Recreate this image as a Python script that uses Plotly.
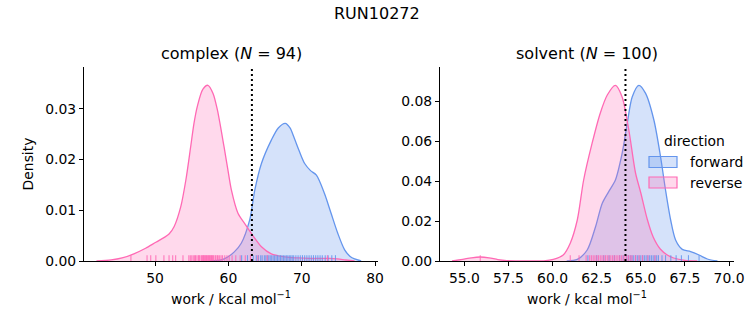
import plotly.graph_objects as go

# ---------------- data ----------------
complex_rev_x = [42.0, 44.0, 45.5, 47.1, 48.7, 50.1, 51.2, 51.9, 52.6, 53.5, 54.2, 54.85, 55.3, 55.75, 56.5,
                 57.2, 57.9, 58.5, 59.4, 59.9, 60.4, 61.3, 62.2, 63.1, 64.5, 65.85, 67.7, 69.5, 71.0, 72.6,
                 73.8, 74.9, 76.0, 77.2]
complex_rev_y = [0.0, 0.0002, 0.0006, 0.0014, 0.0025, 0.0037, 0.0046, 0.0053, 0.0068, 0.0107, 0.016, 0.0225,
                 0.0271, 0.0304, 0.0338, 0.0346, 0.0330, 0.0297, 0.0225, 0.0182, 0.014, 0.0094, 0.0074,
                 0.0055, 0.0028, 0.0014, 0.0008, 0.0006, 0.0005, 0.0005, 0.0005, 0.0004, 0.0002, 0.0]

complex_fwd_x = [57.5, 59.0, 59.9, 60.8, 61.75, 62.9, 63.6, 64.5, 65.85, 66.8, 67.75, 68.4, 69.0, 69.7, 70.4,
                 71.2, 72.0, 73.1, 74.0, 74.9, 75.85, 76.6, 77.2, 78.1]
complex_fwd_y = [0.0, 0.0002, 0.0008, 0.0018, 0.0035, 0.0081, 0.014, 0.0192, 0.0238, 0.0262, 0.0271, 0.0262,
                 0.0241, 0.0215, 0.0192, 0.0178, 0.0169, 0.0133, 0.0094, 0.0055, 0.0022, 0.0009, 0.0004, 0.0]

solvent_rev_x = [54.3, 54.9, 55.4, 55.9, 56.4, 56.9, 57.4, 58.5, 59.5, 60.04, 60.6, 61.0, 61.4, 61.76, 62.24,
                 62.7, 63.1, 63.56, 63.94, 64.32, 64.7, 65.0, 65.36, 65.7, 66.1, 66.5, 66.86, 67.5, 68.2]
solvent_rev_y = [0.0, 0.0008, 0.0016, 0.002, 0.0016, 0.0007, 0.0002, 0.0, 0.0001, 0.0008, 0.003, 0.0089,
                 0.0205, 0.0405, 0.0589, 0.0739, 0.083, 0.0878, 0.082, 0.0655, 0.044, 0.034, 0.021, 0.012,
                 0.006, 0.003, 0.0015, 0.0003, 0.0]

solvent_fwd_x = [60.8, 61.4, 61.96, 62.43, 62.81, 63.18, 63.56, 63.94, 64.23, 64.51, 64.89, 65.27, 65.74,
                 66.12, 66.4, 66.69, 66.97, 67.35, 67.82, 68.3, 68.77, 69.34]
solvent_fwd_y = [0.0, 0.0008, 0.0055, 0.017, 0.0288, 0.0347, 0.0405, 0.0538, 0.0688, 0.082, 0.0878, 0.0838,
                 0.0705, 0.052, 0.0355, 0.0205, 0.0105, 0.0058, 0.0047, 0.003, 0.001, 0.0]

# rug samples
complex_rev_rug = [46.7, 48.9, 49.4, 50.1, 51.2, 51.9, 52.4, 52.8, 53.8, 54.6, 54.8, 55.0, 55.2, 55.4, 55.5,
                   55.7, 55.9, 56.0, 56.1, 56.3, 56.4, 56.5, 56.6, 56.7, 56.8, 56.9, 57.0, 57.1, 57.2, 57.3,
                   57.4, 57.5, 57.6, 57.7, 57.8, 57.9, 58.0, 58.2, 58.3, 58.5, 58.6, 58.8, 59.0, 59.2, 59.5,
                   59.8, 60.1, 60.5, 61.0, 61.6, 62.3, 63.0, 64.0, 65.3, 73.5]
complex_fwd_rug = [61.8, 62.6, 63.4, 63.8, 64.1, 64.4, 64.6, 64.9, 65.1, 65.3, 65.5, 65.7, 65.9, 66.1, 66.3,
                   66.5, 66.7, 66.9, 67.1, 67.3, 67.5, 67.7, 67.9, 68.1, 68.3, 68.5, 68.7, 68.9, 69.2, 69.5,
                   69.8, 70.1, 70.4, 70.7, 71.0, 71.3, 71.6, 71.9, 72.2, 72.5, 72.8, 73.2, 73.6, 74.1, 74.6]
solvent_rev_rug = [55.9, 61.0, 61.5, 61.9, 62.1, 62.2, 62.3, 62.4, 62.5, 62.6, 62.7, 62.8, 62.9, 63.0, 63.1,
                   63.2, 63.3, 63.4, 63.5, 63.6, 63.7, 63.8, 63.9, 64.0, 64.1, 64.2, 64.3, 64.4, 64.5, 64.7,
                   64.9, 65.1, 65.4, 65.8]
solvent_fwd_rug = [62.0, 62.5, 62.9, 63.2, 63.5, 63.8, 64.0, 64.2, 64.3, 64.4, 64.5, 64.6, 64.7, 64.8, 64.9,
                   65.0, 65.1, 65.2, 65.3, 65.4, 65.5, 65.6, 65.7, 65.8, 65.9, 66.0, 66.2, 66.4, 66.7, 67.0,
                   67.3, 67.7, 68.3]

complex_dg = 63.2
solvent_dg = 64.13

directions = ["forward", "reverse"]
legend_title = "direction"
complex_title = "complex (<i>N</i> = 94)"
solvent_title = "solvent (<i>N</i> = 100)"
main_title = "RUN10272"
x_label = "work / kcal mol<sup>−1</sup>"
y_label = "Density"
x_ticks_complex = [50, 60, 70, 80]
x_ticks_solvent = [55.0, 57.5, 60.0, 62.5, 65.0, 67.5, 70.0]
y_ticks_complex = [0.0, 0.01, 0.02, 0.03]
y_ticks_solvent = [0.0, 0.02, 0.04, 0.06, 0.08]

# ---------------- styling ----------------
FWD = "#6495ED"
REV = "#FF69B4"
FWD_FILL = "rgba(100,149,237,0.27)"
REV_FILL = "rgba(255,105,180,0.25)"
FWD_RUG = "rgba(100,149,237,0.85)"
REV_RUG = "rgba(255,105,180,0.85)"
FONT = "DejaVu Sans"
FS = 13.9
W, H = 753, 325


def dx(px):
    return px / W


def dy(py):
    return 1 - py / H


fig = go.Figure()

panels = [
    ("x", "y", complex_fwd_x, complex_fwd_y, complex_rev_x, complex_rev_y),
    ("x2", "y2", solvent_fwd_x, solvent_fwd_y, solvent_rev_x, solvent_rev_y),
]
for xa, ya, fx, fy, rx, ry in panels:
    fig.add_trace(go.Scatter(x=fx, y=fy, xaxis=xa, yaxis=ya, mode="lines", fill="tozeroy",
                             fillcolor=FWD_FILL, line=dict(color=FWD, width=1.3, shape="spline", smoothing=0.8),
                             name=directions[0], showlegend=False, hoverinfo="skip"))
    fig.add_trace(go.Scatter(x=rx, y=ry, xaxis=xa, yaxis=ya, mode="lines", fill="tozeroy",
                             fillcolor=REV_FILL, line=dict(color=REV, width=1.3, shape="spline", smoothing=0.8),
                             name=directions[1], showlegend=False, hoverinfo="skip"))

shapes = []
for xr, yr, vals, col in [("x", "y domain", complex_fwd_rug, FWD_RUG), ("x", "y domain", complex_rev_rug, REV_RUG),
                          ("x2", "y2 domain", solvent_fwd_rug, FWD_RUG), ("x2", "y2 domain", solvent_rev_rug, REV_RUG)]:
    for v in vals:
        shapes.append(dict(type="line", xref=xr, yref=yr, x0=v, x1=v, y0=0, y1=0.03,
                           line=dict(color=col, width=1.1)))
for xr, yr, v in [("x", "y domain", complex_dg), ("x2", "y2 domain", solvent_dg)]:
    shapes.append(dict(type="line", xref=xr, yref=yr, x0=v, x1=v, y0=0, y1=1,
                       line=dict(color="black", width=2, dash="2px,3px")))

# legend (transparent, placed over the solvent panel like the reference)
legend_items = [(directions[0], FWD_FILL, FWD), (directions[1], REV_FILL, REV)]
annotations = [
    dict(text=main_title, x=0.5, y=dy(13), xref="paper", yref="paper", showarrow=False,
         font=dict(family=FONT, size=16), xanchor="center", yanchor="middle"),
    dict(text=complex_title, x=dx(231), y=dy(54), xref="paper", yref="paper", showarrow=False,
         font=dict(family=FONT, size=16), xanchor="center", yanchor="middle"),
    dict(text=solvent_title, x=dx(587), y=dy(54), xref="paper", yref="paper", showarrow=False,
         font=dict(family=FONT, size=16), xanchor="center", yanchor="middle"),
    dict(text=legend_title, x=dx(694), y=dy(141), xref="paper", yref="paper", showarrow=False,
         font=dict(family=FONT, size=FS), xanchor="center", yanchor="middle"),
]
for i, (name, fill, edge) in enumerate(legend_items):
    yc = 162 + 20.5 * i
    shapes.append(dict(type="rect", xref="paper", yref="paper", x0=dx(649), x1=dx(677),
                       y0=dy(yc - 5.5), y1=dy(yc + 5.5), fillcolor=fill, line=dict(color=edge, width=1.2)))
    annotations.append(dict(text=name, x=dx(688), y=dy(yc), xref="paper", yref="paper", showarrow=False,
                            font=dict(family=FONT, size=FS), xanchor="left", yanchor="middle"))

axis_common = dict(showgrid=False, zeroline=False, showline=True, linecolor="black", linewidth=1,
                   ticks="outside", ticklen=4, tickwidth=1, tickcolor="black", automargin=False,
                   tickfont=dict(family=FONT, size=FS, color="black"))

fig.update_layout(
    width=W, height=H,
    margin=dict(l=0, r=0, t=0, b=0),
    paper_bgcolor="white", plot_bgcolor="white",
    font=dict(family=FONT, color="black"),
    showlegend=False,
    shapes=shapes,
    annotations=annotations,
    xaxis=dict(domain=[dx(84), dx(378)], range=[40.3, 80.4], tickvals=x_ticks_complex,
               title=dict(text=x_label, font=dict(size=FS), standoff=9),
               anchor="y", **axis_common),
    yaxis=dict(domain=[dy(261), dy(67)], range=[0, 0.0382], tickvals=y_ticks_complex, tickformat=".2f",
               title=dict(text=y_label, font=dict(size=FS), standoff=8), anchor="x", **axis_common),
    xaxis2=dict(domain=[dx(440), dx(734)], range=[53.62, 70.28], tickvals=x_ticks_solvent, tickformat=".1f",
                title=dict(text=x_label, font=dict(size=FS), standoff=9),
                anchor="y2", **axis_common),
    yaxis2=dict(domain=[dy(261), dy(67)], range=[0, 0.097], tickvals=y_ticks_solvent, tickformat=".2f",
                anchor="x2", **axis_common),
)

fig.write_html("out.html")
